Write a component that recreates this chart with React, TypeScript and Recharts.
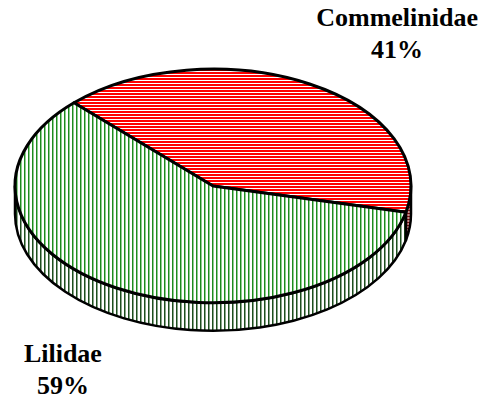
import React from 'react';
import { PieChart, Pie } from 'recharts';

const names = ['Commelinidae', 'Lilidae'];
const shares = [41, 59];
const fills = ['url(#hatchRed)', 'url(#hatchGreen)'];
const sideFills = ['url(#hatchRedSide)', 'url(#hatchGreenSide)'];

const data = names.map((name, i) => ({ name, value: shares[i], fill: fills[i], side: sideFills[i] }));

const TILT = 0.59; // vertical squash of the top face
const DEPTH = 28;
const RAD = Math.PI / 180;
const SERIF = '"Liberation Serif", "Times New Roman", serif';

const pt = (cx: number, cy: number, rx: number, ry: number, a: number) =>
  [cx + rx * Math.cos(a * RAD), cy - ry * Math.sin(a * RAD)];

// draws one slice of a tilted pie: front wall first, then the top face
const Slice3D = (props: any) => {
  const { cx, cy, outerRadius, startAngle, endAngle, payload } = props;
  const rx = outerRadius;
  const ry = outerRadius * TILT;
  const hi = Math.max(startAngle, endAngle);
  const lo = Math.min(startAngle, endAngle);

  const walls: string[] = [];
  for (let k = -1; k <= 1; k++) {
    const a = Math.max(lo, -180 + 360 * k);
    const b = Math.min(hi, 360 * k);
    if (b - a > 0.01) {
      const [x1, y1] = pt(cx, cy, rx, ry, b);
      const [x2, y2] = pt(cx, cy, rx, ry, a);
      walls.push(
        `M${x1},${y1} A${rx},${ry} 0 0 1 ${x2},${y2} L${x2},${y2 + DEPTH} A${rx},${ry} 0 0 0 ${x1},${y1 + DEPTH} Z`
      );
    }
  }

  const [sx, sy] = pt(cx, cy, rx, ry, startAngle);
  const [ex, ey] = pt(cx, cy, rx, ry, endAngle);
  const large = hi - lo > 180 ? 1 : 0;
  const sweep = startAngle > endAngle ? 1 : 0;
  const top = `M${cx},${cy} L${sx},${sy} A${rx},${ry} 0 ${large} ${sweep} ${ex},${ey} Z`;

  return (
    <g>
      {walls.map((d, i) => (
        <path key={i} d={d} fill={payload.side} stroke="#000" strokeWidth={2.5} strokeLinejoin="round" />
      ))}
      <path d={top} fill={payload.fill} stroke="#000" strokeWidth={3} strokeLinejoin="round" />
    </g>
  );
};

const renderLabel = (props: any) => {
  const { cx, cy, midAngle, outerRadius, name, percent } = props;
  const x = cx + Math.cos(midAngle * RAD) * outerRadius * 1.73 + 17;
  const y = cy - Math.sin(midAngle * RAD) * outerRadius * TILT * 1.65 + 23;
  return (
    <text
      x={x}
      y={y}
      textAnchor="middle"
      fill="#000"
      style={{ fontFamily: SERIF, fontWeight: 'bold', fontSize: 26 }}
    >
      <tspan x={x} y={y - 15}>{name}</tspan>
      <tspan x={x} y={y + 17}>{`${Math.round(percent * 100)}%`}</tspan>
    </text>
  );
};

export default function App() {
  return (
    <div style={{ position: 'absolute', left: 0, top: 0, width: 486, height: 401, background: '#fff', fontFamily: SERIF }}>
      <PieChart width={486} height={401}>
        <defs>
          <pattern id="hatchRed" width="4" height="3" patternUnits="userSpaceOnUse">
            <rect width="4" height="3" fill="#fff" />
            <rect width="4" height="2" fill="#ff0000" />
          </pattern>
          <pattern id="hatchGreen" width="4" height="4" patternUnits="userSpaceOnUse">
            <rect width="4" height="4" fill="#fff" />
            <rect x="0" width="1" height="4" fill="#1f8a1f" />
            <rect x="1" width="1" height="4" fill="#8fce8f" />
          </pattern>
          <pattern id="hatchGreenSide" width="4" height="4" patternUnits="userSpaceOnUse">
            <rect width="4" height="4" fill="#fff" />
            <rect x="0" width="1" height="4" fill="#1e4f1e" />
            <rect x="1" width="1" height="4" fill="#8aa58a" />
          </pattern>
          <pattern id="hatchRedSide" width="3" height="3" patternUnits="userSpaceOnUse">
            <rect width="3" height="3" fill="#c98a8a" />
            <rect width="3" height="1" fill="#7a1010" />
          </pattern>
        </defs>
        <Pie
          data={data}
          dataKey="value"
          nameKey="name"
          cx={208}
          cy={181}
          outerRadius={198}
          startAngle={134.6}
          endAngle={-225.4}
          shape={Slice3D}
          label={renderLabel}
          labelLine={false}
          isAnimationActive={false}
        />
      </PieChart>
    </div>
  );
}
